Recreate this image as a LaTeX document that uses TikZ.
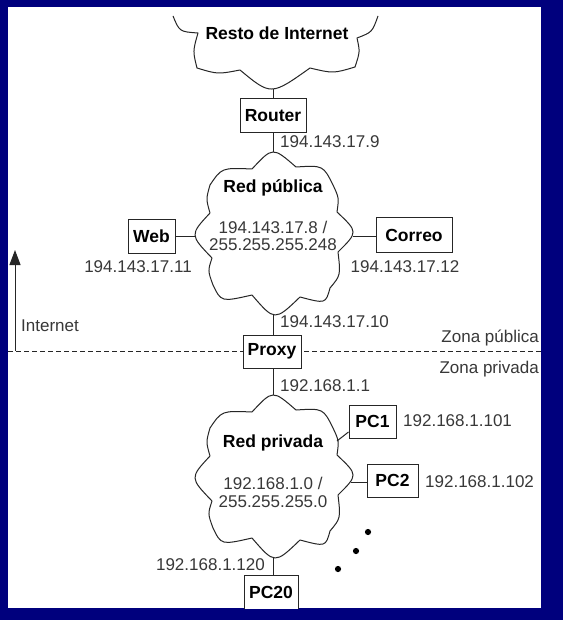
\documentclass[tikz,border=0pt]{standalone}
\usepackage{fontspec}
\setmainfont{Liberation Sans}
\usetikzlibrary{arrows.meta}
\definecolor{navy}{RGB}{0,0,125}
\definecolor{lbl}{gray}{0.22}
\begin{document}
\begin{tikzpicture}[x=1pt,y=-1pt,
  box/.style={draw=black!85, line width=1pt, fill=white, inner sep=0pt,
    font=\fontsize{17.5}{20}\selectfont\bfseries},
  lab/.style={inner sep=0pt, text=lbl, font=\fontsize{17}{20}\selectfont},
  ttl/.style={inner sep=0pt, font=\fontsize{17.5}{20}\selectfont\bfseries},
  wire/.style={draw=black!85, line width=1pt},
  cloudline/.style={draw=black!85, line width=1pt, line join=round},
  netcloud/.pic={
    \draw[cloudline] (252,169) .. controls (272.7,146.7) .. (296,167)
      .. controls (323.2,165.3) .. (333,185)
      .. controls (339,197.8) .. (337,212)
      .. controls (358.2,232) .. (338,252)
      .. controls (340.7,275.3) .. (330,288)
      .. controls (325.7,303.8) .. (300,297)
      .. controls (274.7,321.3) .. (252,295)
      .. controls (221.2,302) .. (213,285)
      .. controls (207.8,270.8) .. (212,258)
      .. controls (189.7,234.8) .. (210,213)
      .. controls (206,199) .. (210,185)
      .. controls (221.7,167.7) .. (252,169) -- cycle;
  }]
\useasboundingbox (0,0) rectangle (563,620);
\fill[navy] (0,0) rectangle (563,620);
\fill[white] (8,7) rectangle (541,608);
\begin{scope}
\clip (8,7) rectangle (541,608);

% top cloud (open, cut at the top)
\draw[cloudline] (173,16) .. controls (179.5,31.7) .. (198,33)
  .. controls (192.8,51.2) .. (197,68)
  .. controls (217.8,74.3) .. (240,70)
  .. controls (271,95.7) .. (310,68)
  .. controls (333.2,73.5) .. (355,67)
  .. controls (360,51.8) .. (357,38)
  .. controls (372.2,32.2) .. (378,16);
\node[ttl] (resto) at (277,33) {Resto de Internet};

% network clouds
\pic at (0,0) {netcloud};
\pic at (0,243) {netcloud};

% cloud attachment points
\coordinate (restobot) at (273,89);
\coordinate (pubtop) at (273,152);
\coordinate (pubbot) at (273,315);
\coordinate (publeft) at (196,236);
\coordinate (pubright) at (353,236);
\coordinate (privtop) at (273,395);
\coordinate (privbot) at (273,558);
\coordinate (privright) at (351,482);
\coordinate (privpc1) at (337,441);

% texts in clouds
\node[ttl] (pubname) at (273,188) {Red pública};
\node[lab] (pubnet) at (273,227) {194.143.17.8 /};
\node[lab] (pubmask) at (273,245) {255.255.255.248};
\node[ttl] (privname) at (273,443) {Red privada};
\node[lab] (privnet) at (273,483) {192.168.1.0 /};
\node[lab] (privmask) at (273,502) {255.255.255.0};

% zone separator and arrow
\coordinate (dl) at (8,351);
\coordinate (dr) at (541,351);
\draw[wire, dash pattern=on 5pt off 3pt] (dl) -- (dr);
\coordinate (ia) at (15,351);
\coordinate (ib) at (15,250);
\draw[wire, -{Triangle[length=15pt,width=11pt]}] (ia) -- (ib);
\node[lab, anchor=west] (inet) at (21,326) {Internet};
\node[lab, anchor=east] (zpub) at (539,338) {Zona pública};
\node[lab, anchor=east] (zpriv) at (539,369) {Zona privada};

% boxes
\node[box, minimum width=66pt, minimum height=34pt] (router) at (273,116) {Router};
\node[box, minimum width=47pt, minimum height=34pt] (web) at (151.5,236) {Web};
\node[box, minimum width=76pt, minimum height=35pt] (correo) at (414,235) {Correo};
\node[box, minimum width=58pt, minimum height=33pt] (proxy) at (272,351.5) {Proxy};
\node[box, minimum width=47pt, minimum height=33pt] (pc1) at (372.5,421.5) {PC1};
\node[box, minimum width=51pt, minimum height=33pt] (pc2) at (392.5,480.5) {PC2};
\node[box, minimum width=54pt, minimum height=34pt] (pc20) at (271,592) {PC20};

% connectors
\draw[wire] (restobot) -- (router.north -| restobot);
\draw[wire] (router.south -| pubtop) -- (pubtop);
\draw[wire] (web.east |- publeft) -- (publeft);
\draw[wire] (pubright) -- (correo.west |- pubright);
\draw[wire] (pubbot) -- (proxy.north -| pubbot);
\draw[wire] (proxy.south -| privtop) -- (privtop);
\draw[wire] (pc1.west |- 0,432) -- (privpc1);
\draw[wire] (privright) -- (pc2.west |- privright);
\draw[wire] (privbot) -- (pc20.north -| privbot);

% address labels
\node[lab, anchor=west] (a9) at (280,142) {194.143.17.9};
\node[lab] (a11) at (138,267) {194.143.17.11};
\node[lab] (a12) at (405,267) {194.143.17.12};
\node[lab, anchor=west] (a10) at (280,322) {194.143.17.10};
\node[lab, anchor=west] (b1) at (280,386) {192.168.1.1};
\node[lab, anchor=west] (b101) at (403,421) {192.168.1.101};
\node[lab, anchor=west] (b102) at (425,482) {192.168.1.102};
\node[lab, anchor=east] (b120) at (265,565) {192.168.1.120};

% dots
\fill[black] (368,532) circle (3.1pt);
\fill[black] (356,551) circle (3.1pt);
\fill[black] (338,569) circle (3.1pt);
\end{scope}
\end{tikzpicture}
\end{document}
